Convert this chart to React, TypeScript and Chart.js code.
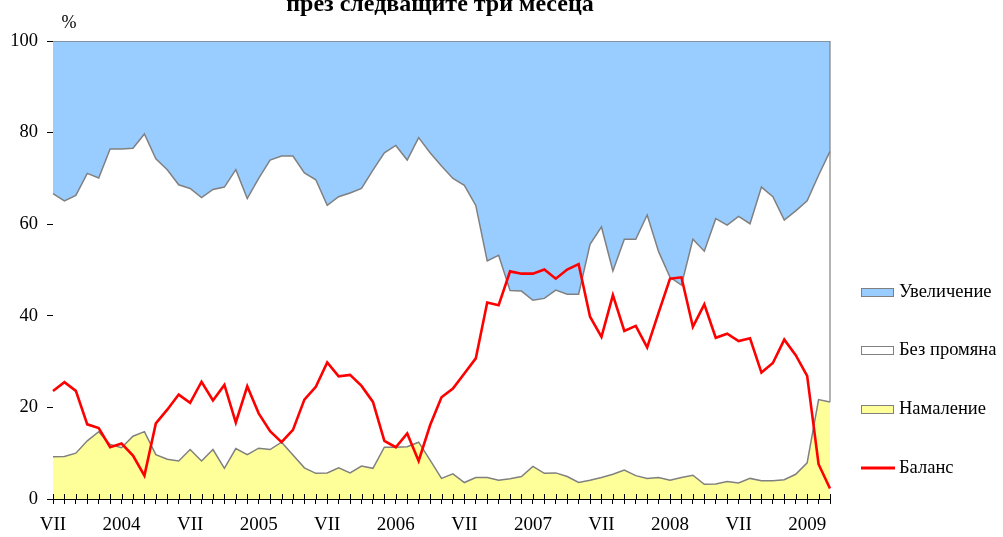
import React, { useEffect, useRef } from "react";
import { Chart, registerables } from "chart.js";

Chart.register(...registerables);

const months = [
  "VII", "", "", "", "", "", "2004", "", "", "", "", "",
  "VII", "", "", "", "", "", "2005", "", "", "", "", "",
  "VII", "", "", "", "", "", "2006", "", "", "", "", "",
  "VII", "", "", "", "", "", "2007", "", "", "", "", "",
  "VII", "", "", "", "", "", "2008", "", "", "", "", "",
  "VII", "", "", "", "", "", "2009", "", "",
];

const decrease = [
  9.2, 9.3, 10.0, 12.7, 14.7, 11.9, 11.2, 13.7, 14.7, 9.7,
  8.7, 8.3, 10.8, 8.3, 10.8, 6.7, 11.0, 9.7, 11.1, 10.8,
  12.4, 9.6, 6.8, 5.6, 5.7, 6.8, 5.7, 7.2, 6.7, 11.3,
  11.3, 11.4, 12.4, 8.5, 4.5, 5.5, 3.6, 4.7, 4.7, 4.1,
  4.4, 4.9, 7.1, 5.6, 5.7, 4.9, 3.6, 4.1, 4.7, 5.4,
  6.3, 5.1, 4.5, 4.7, 4.1, 4.7, 5.2, 3.2, 3.3, 3.8,
  3.5, 4.5, 4.0, 4.0, 4.2, 5.4, 7.9, 21.7, 21.2,
];

const noChange = [
  57.5, 55.8, 56.3, 58.4, 55.4, 64.5, 65.2, 62.9, 65.0, 64.6,
  63.2, 60.3, 57.0, 57.5, 56.8, 61.4, 60.9, 55.9, 58.9, 63.2,
  62.5, 65.3, 64.4, 64.1, 58.4, 59.2, 61.1, 60.6, 65.1, 64.3,
  65.9, 62.6, 66.5, 67.1, 68.2, 64.5, 64.9, 59.4, 47.3, 49.1,
  41.1, 40.5, 36.3, 38.2, 39.9, 39.8, 41.1, 51.5, 54.7, 44.4,
  50.4, 51.6, 57.5, 49.3, 44.3, 42.0, 51.5, 50.9, 57.9, 56.0,
  58.2, 55.6, 64.1, 62.0, 56.7, 57.5, 57.2, 49.0, 54.7,
];

const increase = [
  33.3, 34.9, 33.7, 28.9, 29.9, 23.6, 23.6, 23.4, 20.3, 25.7,
  28.1, 31.4, 32.2, 34.2, 32.4, 31.9, 28.1, 34.4, 30.0, 26.0,
  25.1, 25.1, 28.8, 30.3, 35.9, 34.0, 33.2, 32.2, 28.2, 24.4,
  22.8, 26.0, 21.1, 24.4, 27.3, 30.0, 31.5, 35.9, 48.0, 46.8,
  54.5, 54.6, 56.6, 56.2, 54.4, 55.3, 55.3, 44.4, 40.6, 50.2,
  43.3, 43.3, 38.0, 46.0, 51.6, 53.3, 43.3, 45.9, 38.8, 40.2,
  38.3, 39.9, 31.9, 34.0, 39.1, 37.1, 34.9, 29.3, 24.1,
];

const balance = [
  23.6, 25.5, 23.6, 16.3, 15.5, 11.3, 12.1, 9.5, 5.1, 16.5,
  19.5, 22.8, 21.0, 25.6, 21.5, 24.9, 16.7, 24.6, 18.7, 14.8,
  12.4, 15.1, 21.7, 24.5, 29.8, 26.8, 27.1, 24.7, 21.2, 12.7,
  11.3, 14.3, 8.3, 16.1, 22.2, 24.1, 27.4, 30.7, 42.9, 42.3,
  49.7, 49.2, 49.2, 50.1, 48.1, 50.1, 51.3, 39.8, 35.4, 44.5,
  36.7, 37.8, 33.1, 40.7, 48.1, 48.4, 37.6, 42.5, 35.2, 36.1,
  34.5, 35.1, 27.6, 29.7, 34.8, 31.4, 26.9, 7.6, 2.3,
];

const seriesNames = ["Увеличение", "Без промяна", "Намаление", "Баланс"];
const titleText = "през следващите три месеца";
const unitText = "%";

const FONT = "'Liberation Serif', 'Times New Roman', serif";
const BLUE = "#99CCFF";
const YELLOW = "#FFFF99";
const GRAY = "#808080";
const RED = "#FF0000";

const decorPlugin = {
  id: "decor",
  afterDraw(chart: any) {
    const ctx = chart.ctx;
    const area = chart.chartArea;
    const xs = chart.scales.x;
    const ys = chart.scales.y;
    ctx.save();
    // inner halves of x ticks
    ctx.strokeStyle = "#000";
    ctx.lineWidth = 1;
    ctx.beginPath();
    for (let i = 0; i < months.length; i++) {
      const x = Math.round(xs.getPixelForValue(i)) + 0.5;
      ctx.moveTo(x, area.bottom - 5);
      ctx.lineTo(x, area.bottom);
    }
    ctx.stroke();
    // right edge of the areas
    const last = months.length - 1;
    ctx.strokeStyle = GRAY;
    ctx.lineWidth = 1.2;
    ctx.beginPath();
    ctx.moveTo(area.right, ys.getPixelForValue(100));
    ctx.lineTo(area.right, ys.getPixelForValue(decrease[last]));
    ctx.stroke();
    // title
    ctx.fillStyle = "#000";
    ctx.font = "bold 24px " + FONT;
    ctx.textAlign = "center";
    ctx.textBaseline = "alphabetic";
    ctx.fillText(titleText, 440, 11);
    // unit
    ctx.font = "18px " + FONT;
    ctx.textBaseline = "middle";
    ctx.fillText(unitText, 69, 23);
    // legend
    const items = [
      { label: seriesNames[0], fill: BLUE, y: 292, line: false },
      { label: seriesNames[1], fill: "#FFFFFF", y: 350, line: false },
      { label: seriesNames[2], fill: YELLOW, y: 409, line: false },
      { label: seriesNames[3], fill: RED, y: 468, line: true },
    ];
    ctx.textAlign = "left";
    ctx.font = "18.5px " + FONT;
    for (const it of items) {
      if (it.line) {
        ctx.strokeStyle = RED;
        ctx.lineWidth = 3;
        ctx.beginPath();
        ctx.moveTo(861, it.y);
        ctx.lineTo(895, it.y);
        ctx.stroke();
      } else {
        ctx.fillStyle = it.fill;
        ctx.fillRect(861, it.y - 4, 33, 9);
        ctx.strokeStyle = GRAY;
        ctx.lineWidth = 1;
        ctx.strokeRect(861.5, it.y - 3.5, 32, 8);
      }
      ctx.fillStyle = "#000";
      ctx.fillText(it.label, 899, it.y);
    }
    ctx.restore();
  },
};

export default function App() {
  const ref = useRef<HTMLCanvasElement | null>(null);
  useEffect(() => {
    if (!ref.current) return;
    const chart = new Chart(ref.current, {
      type: "line",
      data: {
        labels: months,
        datasets: [
          {
            label: seriesNames[2],
            data: decrease,
            yAxisID: "y",
            fill: "origin",
            backgroundColor: YELLOW,
            borderColor: GRAY,
            borderWidth: 1.5,
            pointRadius: 0,
            tension: 0,
            order: 1,
          },
          {
            label: seriesNames[1],
            data: noChange,
            yAxisID: "y",
            fill: "-1",
            backgroundColor: "#FFFFFF",
            borderColor: GRAY,
            borderWidth: 1.5,
            pointRadius: 0,
            tension: 0,
            order: 1,
          },
          {
            label: seriesNames[0],
            data: increase,
            yAxisID: "y",
            fill: "-1",
            backgroundColor: BLUE,
            borderColor: GRAY,
            borderWidth: 1.5,
            pointRadius: 0,
            tension: 0,
            order: 1,
          },
          {
            label: seriesNames[3],
            data: balance,
            yAxisID: "yb",
            fill: false,
            borderColor: RED,
            borderWidth: 2.6,
            pointRadius: 0,
            tension: 0,
            order: 0,
          },
        ],
      },
      options: {
        animation: false,
        responsive: false,
        layout: { padding: { top: 41, right: 173, left: 0, bottom: 0 } },
        plugins: {
          legend: { display: false },
          tooltip: { enabled: false },
          title: { display: false },
        },
        scales: {
          x: {
            offset: false,
            grid: { drawOnChartArea: false, tickLength: 5, color: "#000", offset: false },
            border: { color: "#000", width: 1 },
            ticks: {
              autoSkip: false,
              maxRotation: 0,
              minRotation: 0,
              padding: 10,
              color: "#000",
              font: { family: FONT, size: 19 },
            },
            afterFit: (s: any) => {
              s.height = 38;
            },
          },
          y: {
            stacked: true,
            min: 0,
            max: 100,
            ticks: {
              stepSize: 20,
              padding: 9,
              color: "#000",
              font: { family: FONT, size: 18.5 },
            },
            grid: { drawOnChartArea: false, tickLength: 6, color: "#000" },
            border: { color: "#000", width: 1 },
            afterFit: (s: any) => {
              s.width = 53;
            },
          },
          yb: {
            display: false,
            min: 0,
            max: 100,
          },
        },
      },
      plugins: [decorPlugin],
    });
    return () => chart.destroy();
  }, []);
  return (
    <div style={{ position: "absolute", left: 0, top: 0, width: 1003, height: 537, background: "#fff" }}>
      <canvas ref={ref} width={1003} height={537} style={{ display: "block" }} />
    </div>
  );
}
